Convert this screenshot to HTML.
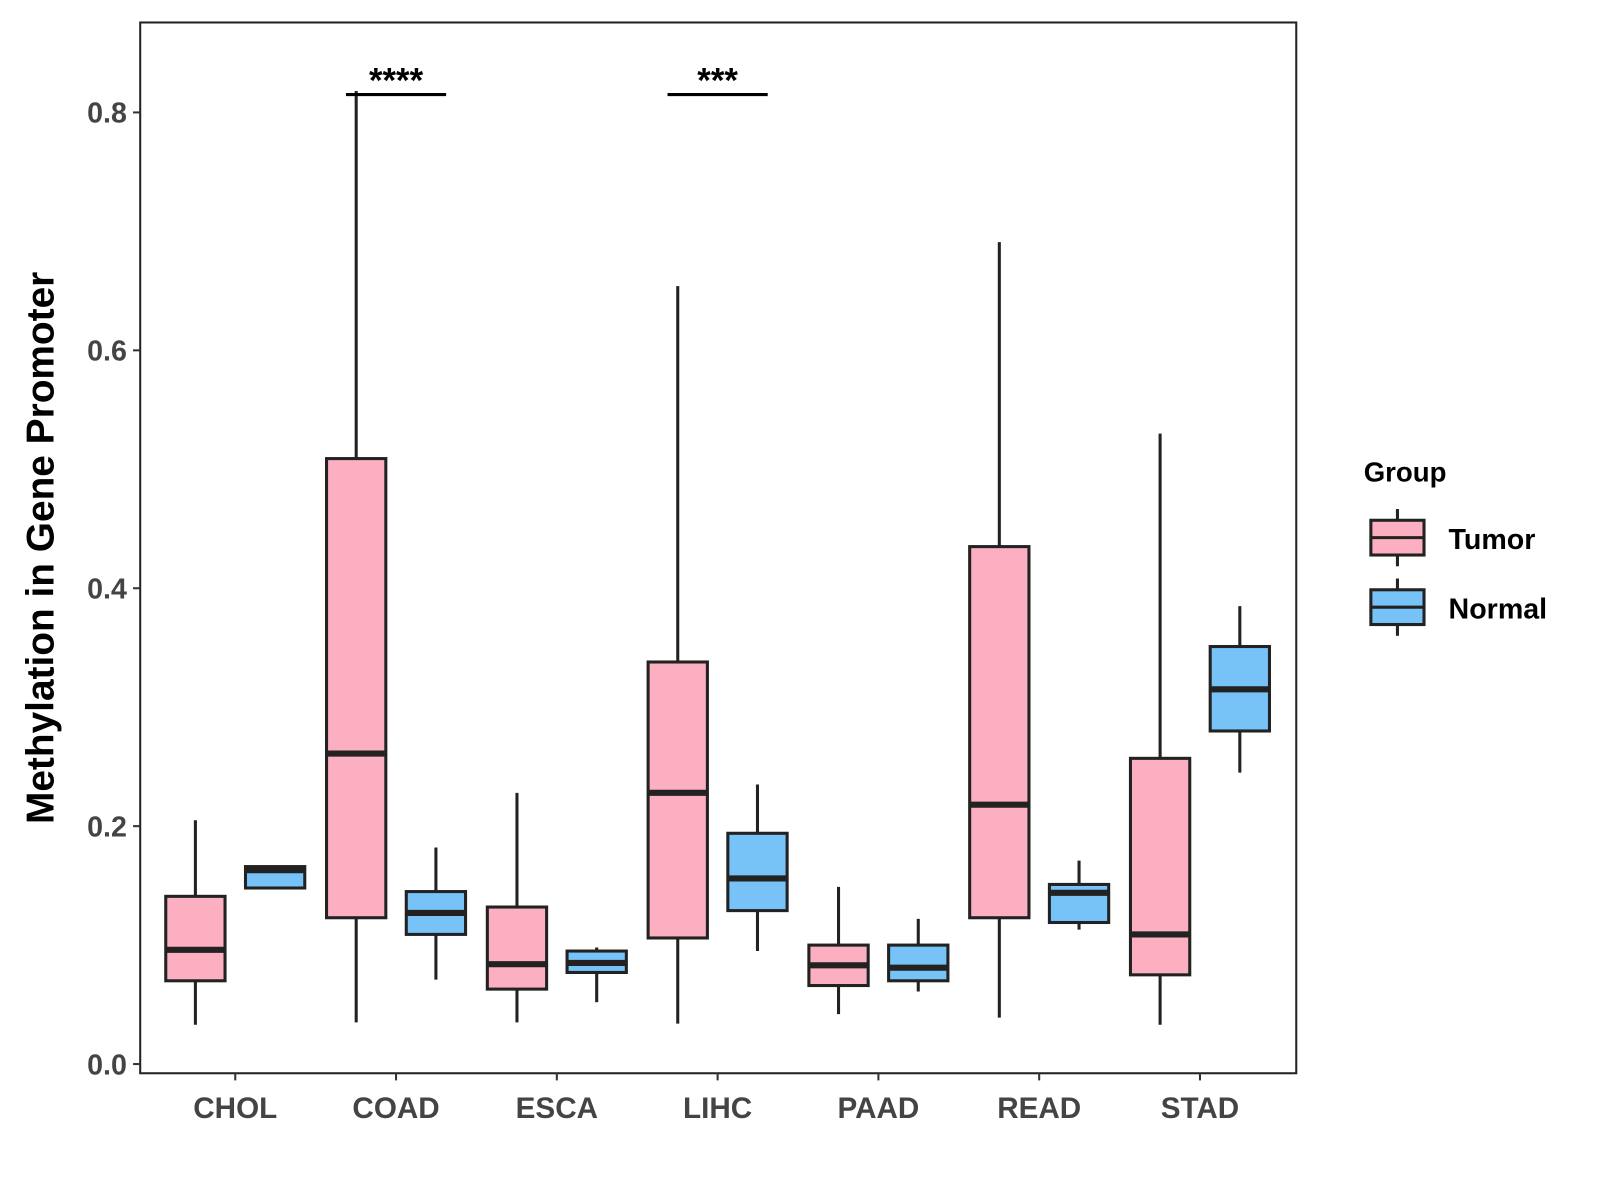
<!DOCTYPE html>
<html><head><meta charset="utf-8"><style>html,body{margin:0;padding:0;background:#fff}svg{display:block}</style></head>
<body>
<svg id="chart" width="1600" height="1200" viewBox="0 0 1565 1174" xmlns="http://www.w3.org/2000/svg" font-family="Liberation Sans, sans-serif" font-weight="bold">
<rect x="137" y="22" width="1131" height="1028" fill="none" stroke="#222" stroke-width="2"/>
<g id="marks"></g>
<text x="0" y="0" transform="translate(52,536) rotate(-90)" text-anchor="middle" font-size="38" fill="#000">Methylation in Gene Promoter</text>
<text x="1334" y="471" font-size="27" fill="#000">Group</text>
<g>
<line x1="1367" y1="498" x2="1367" y2="554" stroke="#222" stroke-width="3"/>
<rect x="1341" y="509" width="52" height="34" fill="#fbafc1" stroke="#222" stroke-width="3"/>
<line x1="1341" y1="526" x2="1393" y2="526" stroke="#222" stroke-width="3"/>
<text x="1417" y="537" font-size="28" fill="#000">Tumor</text></g>
<g>
<line x1="1367" y1="566" x2="1367" y2="622" stroke="#222" stroke-width="3"/>
<rect x="1341" y="577" width="52" height="34" fill="#77c3f8" stroke="#222" stroke-width="3"/>
<line x1="1341" y1="594" x2="1393" y2="594" stroke="#222" stroke-width="3"/>
<text x="1417" y="605" font-size="28" fill="#000">Normal</text></g>
</svg>
<script>
const categories = ["CHOL","COAD","ESCA","LIHC","PAAD","READ","STAD"];
const yTicks = [0.0,0.2,0.4,0.6,0.8];
const yTickLabels = ["0.0","0.2","0.4","0.6","0.8"];
// [low, q1, median, q3, high]
const tumor = [
 [0.033,0.070,0.096,0.141,0.205],
 [0.035,0.123,0.261,0.509,0.818],
 [0.035,0.063,0.084,0.132,0.228],
 [0.034,0.106,0.228,0.338,0.654],
 [0.042,0.066,0.083,0.100,0.149],
 [0.039,0.123,0.218,0.435,0.691],
 [0.033,0.075,0.109,0.257,0.530]];
const normal = [
 [0.148,0.148,0.163,0.166,0.166],
 [0.071,0.109,0.127,0.145,0.182],
 [0.052,0.077,0.085,0.095,0.098],
 [0.095,0.129,0.156,0.194,0.235],
 [0.061,0.070,0.081,0.100,0.122],
 [0.113,0.119,0.144,0.151,0.171],
 [0.245,0.280,0.315,0.351,0.385]];
const sigCats = ["COAD","LIHC"];
const sigLabels = ["****","***"];
const sigY = 0.815;

const NS="http://www.w3.org/2000/svg";
const g=document.getElementById('marks');
const yS=v=>1041-v*1163.75;
const xS=i=>230+i*157.3;
function mk(tag,attrs,parent){const e=document.createElementNS(NS,tag);for(const k in attrs)e.setAttribute(k,attrs[k]);(parent||g).appendChild(e);return e;}
yTicks.forEach((t,i)=>{
 const tk=mk('line',{x1:130,x2:137,y1:yS(t),y2:yS(t),stroke:'#333','stroke-width':2});
 
 
 const tx=mk('text',{x:124,y:yS(t)+10,'text-anchor':'end','font-size':28,fill:'#444'});
 tx.textContent=yTickLabels[i];
 
 
});
categories.forEach((c,i)=>{
 const tk=mk('line',{x1:xS(i),x2:xS(i),y1:1050,y2:1057,stroke:'#333','stroke-width':2});
 
 
 const tx=mk('text',{x:xS(i),y:1094,'text-anchor':'middle','font-size':29,fill:'#444'});
 tx.textContent=c;
 
 
});
function box(cx,d,fill,name){
 const bg=mk('g',{});
 
 
 const w=58;
 mk('line',{x1:cx,x2:cx,y1:yS(d[0]),y2:yS(d[4]),stroke:'#222','stroke-width':3},bg);
 mk('rect',{x:cx-w/2,y:yS(d[3]),width:w,height:yS(d[1])-yS(d[3]),fill:fill,stroke:'#222','stroke-width':3},bg);
 mk('line',{x1:cx-w/2,x2:cx+w/2,y1:yS(d[2]),y2:yS(d[2]),stroke:'#222','stroke-width':6},bg);
}
categories.forEach((c,i)=>{
 box(xS(i)-39,tumor[i],'#fbafc1','box-tumor-'+c.toLowerCase());
 box(xS(i)+39,normal[i],'#77c3f8','box-normal-'+c.toLowerCase());
});
sigCats.forEach((c,j)=>{
 const i=categories.indexOf(c);
 const l=mk('line',{x1:xS(i)-49,x2:xS(i)+49,y1:yS(sigY),y2:yS(sigY),stroke:'#000','stroke-width':3});
 
 
 const t=mk('text',{x:xS(i),y:yS(sigY)-2,'text-anchor':'middle','font-size':34,fill:'#000'});
 t.textContent=sigLabels[j];
 
 
});
</script>
</body></html>
